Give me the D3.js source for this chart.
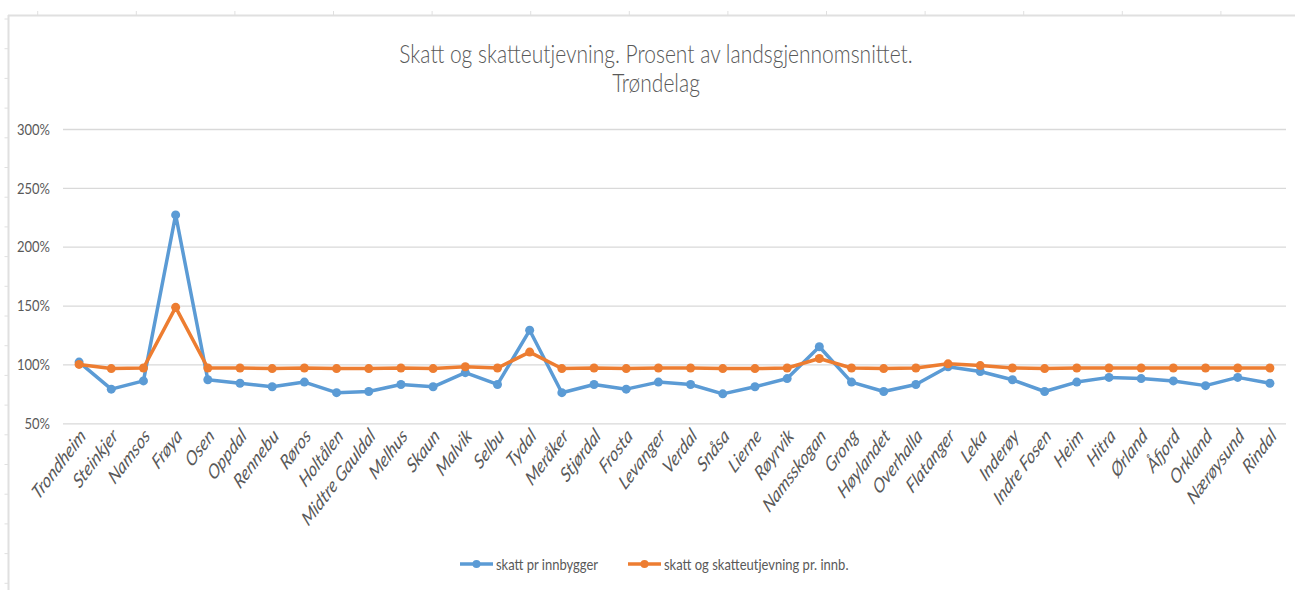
<!DOCTYPE html>
<html>
<head>
<meta charset="utf-8">
<script src="https://cdn.jsdelivr.net/npm/d3@7"></script>
<style>
  body { margin: 0; background: #fff; }
  svg { display: block; font-family: Lato, "Open Sans", sans-serif; }
</style>
</head>
<body>
<div id="chart"></div>
<script>
// data ----------------------------------------------------------------------
const kommuner = ["Trondheim","Steinkjer","Namsos","Frøya","Osen","Oppdal","Rennebu","Røros",
  "Holtålen","Midtre Gauldal","Melhus","Skaun","Malvik","Selbu","Tydal","Meråker","Stjørdal",
  "Frosta","Levanger","Verdal","Snåsa","Lierne","Røyrvik","Namsskogan","Grong","Høylandet",
  "Overhalla","Flatanger","Leka","Inderøy","Indre Fosen","Heim","Hitra","Ørland","Åfjord",
  "Orkland","Nærøysund","Rindal"];

const skattPrInnb = [102,79,86,227,87,84,81,85,76,77,83,81,93,83,129,76,83,79,85,83,75,81,88,115,
  85,77,83,98,94,87,77,85,89,88,86,82,89,84];

const skattOgUtj = [100,96.5,97,148.5,97,97,96.5,97,96.5,96.5,97,96.5,98,97,110.5,96.5,97,96.5,97,97,
  96.5,96.5,97,105,97,96.5,97,100.5,99,97,96.5,97,97,97,97,97,97,97];

const yTicks = [50,100,150,200,250,300];
const seriesNames = ["skatt pr innbygger","skatt og skatteutjevning pr. innb."];
const colors = ["#5b9bd5","#ed7d31"];

// set up ----------------------------------------------------------------------
const svgWidth = 1295, svgHeight = 590;
const plot = {left: 63, right: 1286, top: 129, bottom: 423.3};
const stretch = 1.25; // the screenshot is squeezed a bit taller than wide

const svg = d3.select("#chart").append("svg")
  .attr("width", svgWidth)
  .attr("height", svgHeight);

// the worksheet edge that shows in the screenshot
const frame = svg.append("g").attr("stroke", "#e0e0e0").attr("fill", "none");
frame.append("path").attr("d", `M8,15.5H${svgWidth}`).attr("stroke-width", 2);
frame.append("path").attr("d", `M8.5,15V${svgHeight}`).attr("stroke-width", 2);
frame.selectAll(".tt").data(d3.range(13)).enter().append("line")
  .attr("x1", d => 37.7 + d * 98.6).attr("x2", d => 37.7 + d * 98.6)
  .attr("y1", 11).attr("y2", 15);
frame.selectAll(".lt").data(d3.range(20)).enter().append("line")
  .attr("x1", 4.5).attr("x2", 8)
  .attr("y1", d => 19 + d * 29.7).attr("y2", d => 19 + d * 29.7);

// scales
const x = d3.scalePoint().domain(kommuner).range([plot.left, plot.right]).padding(0.5);
const y = d3.scaleLinear().domain([50, 300]).range([plot.bottom, plot.top]);

// y axis + gridlines
const yAxis = svg.append("g")
  .attr("transform", `translate(${plot.left},0)`)
  .call(d3.axisLeft(y).tickValues(yTicks).tickSize(-(plot.right - plot.left))
    .tickPadding(13).tickFormat(d => d + "%"));
yAxis.select(".domain").remove();
yAxis.selectAll(".tick line").attr("stroke", "#d9d9d9").attr("stroke-width", 1.3);
yAxis.selectAll(".tick text")
  .attr("fill", "#595959")
  .attr("font-size", "13px")
  .attr("font-family", "Lato, sans-serif")
  .attr("transform", `scale(1,${stretch})`);

// x axis labels
const xAxis = svg.append("g")
  .attr("transform", `translate(0,${plot.bottom})`)
  .call(d3.axisBottom(x).tickSize(0).tickPadding(0));
xAxis.select(".domain").remove();
xAxis.selectAll(".tick text")
  .attr("fill", "#595959")
  .attr("font-size", "15.5px")
  .attr("font-style", "italic")
  .attr("font-family", "Lato, sans-serif")
  .attr("text-anchor", "end")
  .attr("dy", null)
  .attr("y", 0)
  .attr("transform", "translate(7,14) scale(1,1.32) rotate(-45)");

// lines + markers
const line = d3.line().x((d, i) => x(kommuner[i])).y(d => y(d));
[skattPrInnb, skattOgUtj].forEach(function(vals, s) {
  const g = svg.append("g");
  g.append("path")
    .datum(vals)
    .attr("d", line)
    .attr("fill", "none")
    .attr("stroke", colors[s])
    .attr("stroke-width", 3.5)
    .attr("stroke-linejoin", "round");
  g.selectAll("circle")
    .data(vals)
    .enter()
    .append("circle")
    .attr("cx", (d, i) => x(kommuner[i]))
    .attr("cy", d => y(d))
    .attr("r", 4.5)
    .attr("fill", colors[s]);
});

// title
const titleLines = ["Skatt og skatteutjevning. Prosent av landsgjennomsnittet.", "Trøndelag"];
const titleY = [63, 92];
svg.append("g")
  .selectAll("text")
  .data(titleLines)
  .enter()
  .append("text")
  .attr("transform", (d, i) => `translate(656,${titleY[i]}) scale(1,1.2)`)
  .attr("text-anchor", "middle")
  .attr("fill", "#595959")
  .attr("font-size", "21px")
  .attr("font-weight", 300)
  .text(d => d);

// legend
const legendX = [460, 628];
const legend = svg.append("g");
seriesNames.forEach(function(name, s) {
  const lg = legend.append("g").attr("transform", `translate(${legendX[s]},564)`);
  lg.append("line").attr("x1", 0).attr("x2", 33).attr("y1", 0).attr("y2", 0)
    .attr("stroke", colors[s]).attr("stroke-width", 3.5);
  lg.append("circle").attr("cx", 16.5).attr("cy", 0).attr("r", 4).attr("fill", colors[s]);
  lg.append("text").attr("x", 36).attr("y", 0).attr("dy", "0.35em")
    .attr("transform", `scale(1,${stretch})`)
    .attr("font-size", "13px").attr("fill", "#595959").text(name);
});
</script>
</body>
</html>
